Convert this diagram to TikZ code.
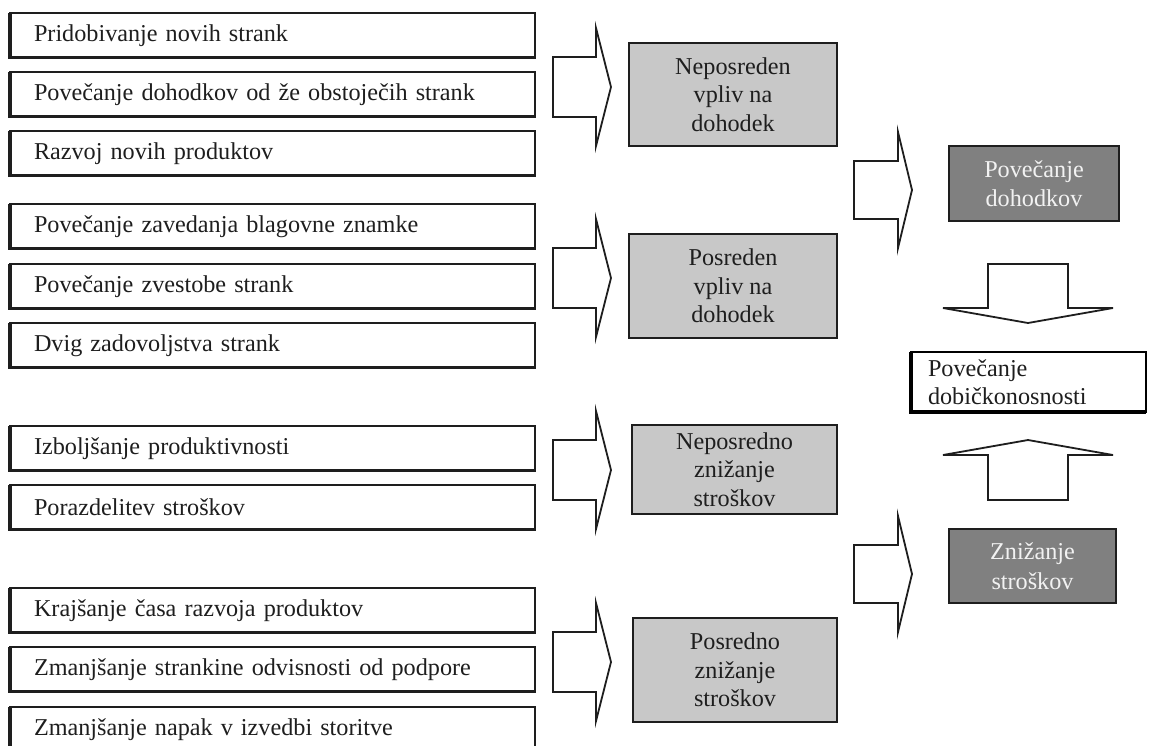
\documentclass[tikz,border=0pt]{standalone}
\usepackage{fontspec}
\setmainfont{Liberation Serif}
\definecolor{ink}{HTML}{1E1E1E}
\definecolor{midgray}{HTML}{C8C8C8}
\definecolor{darkgray}{HTML}{808080}
\definecolor{paletext}{HTML}{F2F2F2}
% block arrow pointing right: body left x, head base x, tip x, centre y, body half height, head half height
\newcommand{\rightblock}[6]{%
  \draw[blockarrow] (#1,#4-#5) -- (#2,#4-#5) -- (#2,#4-#6) -- (#3,#4)
    -- (#2,#4+#6) -- (#2,#4+#5) -- (#1,#4+#5) -- cycle;}
\begin{document}
\begin{tikzpicture}[x=0.5pt,y=-0.5pt,
  txt/.style={font=\fontsize{12.1pt}{14.3pt}\selectfont, text=ink},
  item/.style={txt, draw=ink, line width=0.9pt, fill=white, anchor=north west,
    outer sep=0pt, inner xsep=12pt, inner ysep=0pt, text width=238.5pt,
    align=left, minimum height=22.3pt},
  itemedge/.style={draw=ink, line width=1.7pt},
  effect/.style={txt, draw=ink, line width=1.1pt, fill=midgray, anchor=north west,
    outer sep=0pt, align=center, inner sep=0pt},
  result/.style={font=\fontsize{12.1pt}{14.8pt}\selectfont, text=paletext,
    draw=ink, line width=1.1pt, fill=darkgray, anchor=north west,
    outer sep=0pt, align=center, inner sep=0pt},
  goal/.style={txt, draw=black, line width=1.4pt, fill=white, anchor=north west,
    outer sep=0pt, inner xsep=8.5pt, inner ysep=0pt, text width=100.5pt,
    align=left, minimum height=30pt},
  blockarrow/.style={draw=ink, line width=0.9pt, fill=white},
]
\clip (0,0) rectangle (1150,745);
\fill[white] (0,0) rectangle (1150,745);

% factors on the left
\node[item] (b1)  at (10,13)  {Pridobivanje novih strank};
\node[item] (b2)  at (10,72)  {Povečanje dohodkov od že obstoječih strank};
\node[item] (b3)  at (10,131) {Razvoj novih produktov};
\node[item] (b4)  at (10,204) {Povečanje zavedanja blagovne znamke};
\node[item] (b5)  at (10,264) {Povečanje zvestobe strank};
\node[item] (b6)  at (10,323) {Dvig zadovoljstva strank};
\node[item] (b7)  at (10,426) {Izboljšanje produktivnosti};
\node[item] (b8)  at (10,485) {Porazdelitev stroškov};
\node[item] (b9)  at (10,588) {Krajšanje časa razvoja produktov};
\node[item] (b10) at (10,647) {Zmanjšanje strankine odvisnosti od podpore};
\node[item] (b11) at (10,707) {Zmanjšanje napak v izvedbi storitve};
\foreach \n in {b1,b2,b3,b4,b5,b6,b7,b8,b9,b10,b11}
  \draw[itemedge] (\n.north west) -- (\n.south west) -- (\n.south east);

% arrows into the effects
\rightblock{553}{596}{611}{87}{30}{59}
\rightblock{553}{596}{611}{278}{30}{59}
\rightblock{553}{596}{611}{470}{30}{59}
\rightblock{553}{596}{611}{662}{30}{59}

% effects
\node[effect, minimum width=104pt, minimum height=51.5pt] (g1) at (629,43)
  {Neposreden\\vpliv na\\dohodek};
\node[effect, minimum width=104pt, minimum height=52pt] (g2) at (629,234)
  {Posreden\\vpliv na\\dohodek};
\node[effect, minimum width=102.5pt, minimum height=44.5pt] (g3) at (632,425)
  {Neposredno\\znižanje\\stroškov};
\node[effect, minimum width=102pt, minimum height=52pt] (g4) at (633,618)
  {Posredno\\znižanje\\stroškov};

% arrows into the results
\rightblock{854}{898}{912}{190}{29}{58}
\rightblock{854}{898}{912}{574}{29}{58}

% results
\node[result, minimum width=85pt, minimum height=37.5pt] (d1) at (949,146)
  {Povečanje\\dohodkov};
\node[result, minimum width=83.5pt, minimum height=37pt] (d2) at (949,529)
  {Znižanje\\stroškov};

% arrows into the goal
\draw[blockarrow] (988,264) -- (1068,264) -- (1068,308) -- (1113,308)
  -- (1028,323) -- (943,308) -- (988,308) -- cycle;
\draw[blockarrow] (988,500) -- (1068,500) -- (1068,455) -- (1113,455)
  -- (1028,440) -- (943,455) -- (988,455) -- cycle;

% goal
\node[goal] (c) at (911,352) {Povečanje\\dobičkonosnosti};
\draw[draw=black, line width=2pt] (c.north west) -- (c.south west) -- (c.south east);
\end{tikzpicture}
\end{document}
